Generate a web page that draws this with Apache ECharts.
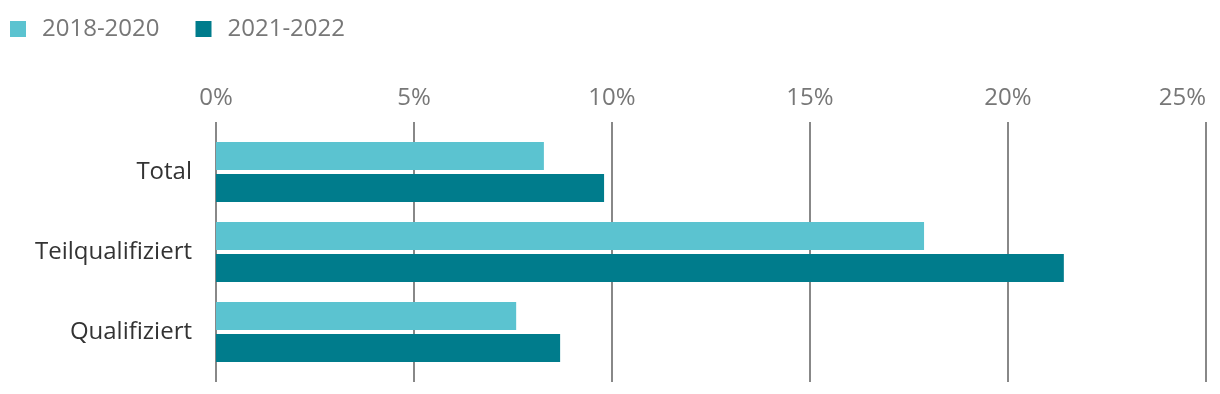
<!DOCTYPE html>
<html><head><meta charset="utf-8">
<script src="https://cdn.jsdelivr.net/npm/echarts@6/dist/echarts.min.js"></script>
<style>html,body{margin:0;padding:0;background:#fff}#c{width:1220px;height:394px}</style>
</head><body><div id="c"></div>
<script>
const categories = ['Total', 'Teilqualifiziert', 'Qualifiziert'];
const seriesNames = ['2018-2020', '2021-2022'];
const values2018_2020 = [8.28, 17.88, 7.58];
const values2021_2022 = [9.80, 21.41, 8.69];
const xTicks = [0, 5, 10, 15, 20, 25];

const chart = echarts.init(document.getElementById('c'), null, {renderer: 'canvas'});
const font = '"Open Sans", "Noto Sans", sans-serif';
chart.setOption({
  animation: false,
  textStyle: {fontFamily: font},
  legend: {
    left: 5, top: 12, icon: 'rect', itemWidth: 16, itemHeight: 16, itemGap: 36,
    data: seriesNames,
    textStyle: {fontFamily: font, fontSize: 24, color: '#777', padding: [0, 0, 0, 11]}
  },
  grid: [
    {left: 216, right: 14, top: 132, bottom: 22, containLabel: false, outerBoundsMode: 'none'},
    {left: 216, right: 14, top: 122, bottom: 12, containLabel: false, outerBoundsMode: 'none'}
  ],
  xAxis: [
    {type: 'value', gridIndex: 0, min: xTicks[0], max: xTicks[xTicks.length-1], interval: 5,
     position: 'top', show: false, splitLine: {show: false}},
    {type: 'value', gridIndex: 1, min: xTicks[0], max: xTicks[xTicks.length-1], interval: 5,
     position: 'top', axisLine: {show: false}, axisTick: {show: false},
     axisLabel: {formatter: v => v + '%', color: '#777', fontSize: 24, fontFamily: font, margin: 12,
                 alignMaxLabel: 'right'},
     splitLine: {show: true, lineStyle: {color: '#888', width: 2}}}
  ],
  yAxis: [
    {type: 'category', gridIndex: 0, data: categories, inverse: true,
     axisLine: {show: false}, axisTick: {show: false},
     axisLabel: {color: '#333', fontSize: 24, fontFamily: font, margin: 24}},
    {type: 'category', gridIndex: 1, data: categories, show: false}
  ],
  series: [
    {name: seriesNames[0], type: 'bar', xAxisIndex: 0, yAxisIndex: 0, data: values2018_2020,
     barWidth: 28, barGap: '14.3%', itemStyle: {color: '#5BC3D0'}},
    {name: seriesNames[1], type: 'bar', xAxisIndex: 0, yAxisIndex: 0, data: values2021_2022,
     barWidth: 28, barGap: '14.3%', itemStyle: {color: '#007C8C'}}
  ]
});
</script></body></html>
